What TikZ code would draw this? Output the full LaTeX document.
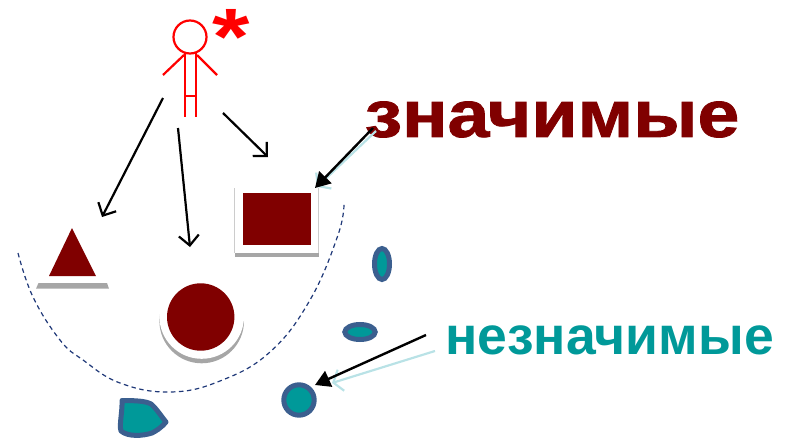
\documentclass[tikz,border=0pt]{standalone}
\usepackage{fontspec}
\setmainfont{Liberation Sans}
\newfontfamily\heavyfont{Liberation Sans Bold}[FakeBold=1.2]
\usetikzlibrary{arrows.meta,shapes.geometric}
\definecolor{darkred}{HTML}{800000}
\definecolor{tealfill}{HTML}{009999}
\definecolor{blueedge}{HTML}{3B5F8F}
\definecolor{navyarc}{HTML}{1F3878}
\definecolor{shadowgray}{HTML}{A6A6A6}
\definecolor{paleteal}{HTML}{B9E2E6}
\tikzset{
  figure/.style={red, line width=2.2pt},
  choice/.style={black, line width=2.2pt, -{Straight Barb[length=10pt,width=20pt,line width=2.2pt]}},
  pointer/.style={black, line width=2.4pt, -{Triangle[length=15pt,width=17pt]}},
  paleptr/.style={paleteal, line width=2.2pt, -{Straight Barb[length=8pt,width=22pt,line width=2.2pt]}},
  signif/.style={fill=darkred, draw=none, inner sep=0pt},
  nonsig/.style={draw=blueedge, fill=tealfill, line width=5pt, inner sep=0pt},
  shadowpart/.style={fill=shadowgray, draw=none},
}
\begin{document}
\begin{tikzpicture}[x=1pt,y=-1pt]
\useasboundingbox (0,0) rectangle (788,439);
% person
\node[circle, draw=red, line width=2.2pt, minimum size=33pt, inner sep=0pt] (head) at (190,37) {};
\draw[figure] (185,53) -- (185,117);
\draw[figure] (196,53) -- (196,117);
\draw[figure] (185,96) -- (196,96);
\draw[figure] (184,55) -- (163,75);
\draw[figure] (197,55) -- (217,75);
\node[red, font=\bfseries, inner sep=0pt, xscale=1.2] (star) at (231,36.5) {\fontsize{80}{80}\selectfont *};
% free ends of the arrows
\coordinate (fromleft) at (163,98);
\coordinate (tileft) at (102,217);
\coordinate (frommid) at (178,128);
\coordinate (timid) at (190,247);
\coordinate (fromright) at (223,113);
\coordinate (tiright) at (268,157);
\draw[choice] (fromleft) -- (tileft);
\draw[choice] (frommid) -- (timid);
\draw[choice] (fromright) -- (tiright);
% square
\draw[shadowpart] (234.5,253) rectangle (318.7,257);
\draw[black!20, line width=0.8pt] (234.5,253) -- (234.5,188);
\draw[black!20, line width=0.8pt] (318.7,253) -- (318.7,188);
\node[signif, minimum width=67.5pt, minimum height=52.5pt] (square) at (276.8,218.8) {};
% triangle
\draw[shadowpart] (38.5,283) -- (107,283) -- (109,288.7) -- (36,288.7) -- cycle;
\fill[darkred] (72,228) -- (96,276) -- (49,276) -- cycle;
% circle
\fill[shadowgray] (201.7,321) circle (42.3);
\fill[white] (201.7,316.5) circle (42.3);
\node[signif, circle, minimum size=67.4pt] (disc) at (200.7,317) {};
% arc
\draw[navyarc, line width=1.2pt, dash pattern=on 4.5pt off 3.5pt] plot[smooth, tension=0.7] coordinates
    {(18,253) (33,297) (60,340) (83,360) (120,383) (170,392) (220,381) (270,352) (310,300) (338,235) (344,203)};
% non significant
\node[nonsig, ellipse, minimum width=15pt, minimum height=31pt] (tall) at (382,264) {};
\node[nonsig, ellipse, minimum width=30.4pt, minimum height=15pt] (flat) at (360,332) {};
\node[nonsig, circle, minimum size=30.4pt] (round) at (299,400) {};
\draw[nonsig, line join=round] (122,400.5) .. controls (135,400.5) and (146,401) .. (151,404)
    .. controls (156,408) and (161,416) .. (166,422) .. controls (161,428) and (156,431) .. (152,433)
    .. controls (143,436) and (128,437) .. (121,431) .. controls (119,425) and (122.5,412) .. (122,400.5) -- cycle;
% labels
\node[text=darkred, font=\heavyfont, inner sep=0pt, xscale=1.14] (sigtext) at (552,119.5) {\fontsize{66}{66}\selectfont значимые};
\node[text=tealfill, font=\bfseries, inner sep=0pt] (nontext) at (609.5,340) {\fontsize{53.5}{53.5}\selectfont незначимые};
% pointers
\coordinate (sigpale) at (376,131);
\coordinate (sigpaletip) at (317,187);
\coordinate (sigstart) at (373,128);
\coordinate (sigtip) at (315,188);
\draw[paleptr] (sigpale) -- (sigpaletip);
\draw[pointer] (sigstart) -- (sigtip);
\coordinate (nonpale) at (435,351);
\coordinate (nonpaletip) at (332,383);
\coordinate (nonstart) at (426,335);
\coordinate (nontip) at (315,385);
\draw[paleptr] (nonpale) -- (nonpaletip);
\draw[pointer] (nonstart) -- (nontip);
\end{tikzpicture}
\end{document}
